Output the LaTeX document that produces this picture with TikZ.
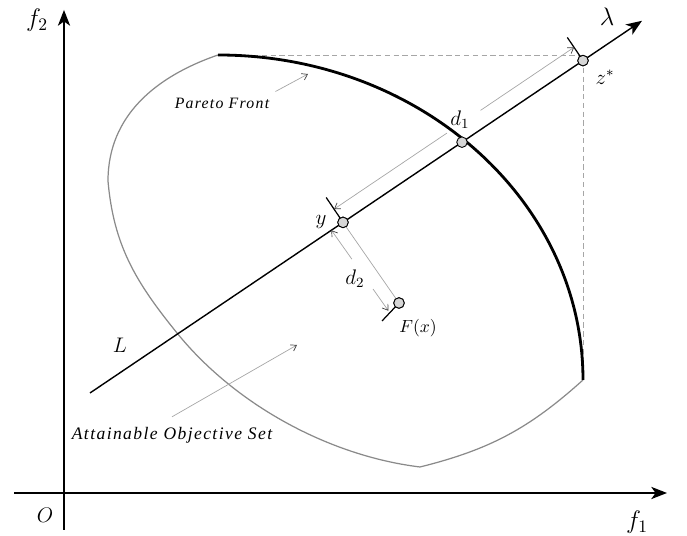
\documentclass[tikz,border=0pt]{standalone}
\usepackage{fontspec}
\usetikzlibrary{arrows.meta}
\newfontfamily\notefont[LetterSpace=8]{Liberation Serif}
\definecolor{setgray}{HTML}{8A8A8A}
\definecolor{guidegray}{HTML}{A6A6A6}
\definecolor{ptfill}{HTML}{D6D6D6}
\newcommand{\notelabel}[1]{{\notefont\itshape #1}}

\begin{document}
\begin{tikzpicture}[
  x=0.02cm, y=0.02cm,
  axis/.style={line width=0.7pt, -{Stealth[length=9pt,width=7pt,inset=2.5pt]}},
  front/.style={line width=1.6pt},
  setline/.style={draw=setgray, line width=0.7pt},
  guide/.style={draw=guidegray, line width=0.4pt, dash pattern=on 3pt off 2pt},
  dimline/.style={draw=guidegray, line width=0.4pt},
  dimarrow/.style={dimline, -{Straight Barb[length=3pt,width=4pt,color=black!75]}},
  tickline/.style={line width=0.7pt},
  pt/.style={circle, draw, fill=ptfill, inner sep=0pt, minimum size=6pt, line width=0.5pt},
  lbl/.style={font=\large}
]
\useasboundingbox (0,0) rectangle (687,536);

% axes
\coordinate (f1start) at (14,43);
\coordinate (f1end) at (667,43);
\coordinate (f2start) at (64,6);
\coordinate (f2end) at (64,526);
\draw[axis] (f1start) -- (f1end);
\draw[axis] (f2start) -- (f2end);
\node[font=\Large] (f1lbl) at (637,14) {$f_1$};
\node[font=\Large] (f2lbl) at (37,516) {$f_2$};
\node[lbl] (olbl) at (45,21) {$O$};

% ideal point guides
\coordinate (ftop) at (218,481);
\coordinate (fend) at (583,156);
\coordinate (zcorner) at (583,481);
\draw[guide] (ftop) -- (zcorner) -- (fend);

% attainable set boundary
\coordinate (setleft) at (108,355);
\coordinate (setmid) at (177,203);
\coordinate (setlow) at (420,69);
\draw[setline] (ftop) to[out=199, in=90] (setleft)
  to[out=-85, in=129] (setmid)
  to[out=-51, in=173, looseness=0.85] (setlow)
  to[out=14, in=222] (fend);

% pareto front
\draw[front] (ftop) arc[start angle=90, end angle=0, x radius=365, y radius=325];

% search direction
\coordinate (lstart) at (90,143);
\coordinate (ltip) at (642,515.2);
\draw[line width=0.8pt, -{Stealth[length=9pt,width=7pt,inset=2.5pt]}] (lstart) -- (ltip);
\node[font=\Large] (lamlbl) at (607,519) {$\lambda$};
\node[lbl] (llbl) at (120,191) {$L$};

% ticks
\coordinate (ytick) at (326.2,338.5);
\coordinate (ztick) at (567.3,498.6);
\coordinate (ftick) at (382,215);

% points
\node[pt] (ypt) at (343,313.6) {};
\node[pt] (dpt) at (462,393.8) {};
\node[pt] (zpt) at (583,475.4) {};
\node[pt] (fpt) at (399,233) {};
\draw[tickline] (ypt.center) -- (ytick);
\draw[tickline] (zpt.center) -- (ztick);
\draw[tickline] (fpt.center) -- (ftick);
\draw[dimline] (ypt) -- (fpt);
\node[pt] at (ypt) {};
\node[pt] at (zpt) {};
\node[pt] at (fpt) {};

% d1 dimension
\coordinate (d1a) at (334.1,326.9);
\coordinate (d1b) at (574.1,488.7);
\coordinate (d1gapa) at (446.9,402.9);
\coordinate (d1gapb) at (480.5,425.6);
\draw[dimarrow] (d1gapa) -- (d1a);
\draw[dimarrow] (d1gapb) -- (d1b);
\node[lbl] (d1lbl) at (460,416) {$d_1$};

% d2 dimension
\coordinate (d2a) at (331.4,305.8);
\coordinate (d2b) at (388.4,225.2);
\coordinate (d2gapa) at (351.9,276.8);
\coordinate (d2gapb) at (373.0,247.0);
\draw[dimarrow] (d2gapa) -- (d2a);
\draw[dimarrow] (d2gapb) -- (d2b);
\node[lbl] (d2lbl) at (355,257) {$d_2$};

\node[lbl] (ylbl) at (321,314) {$y$};
\node[lbl] (zlbl) at (605,459) {$z^{*}$};
\node[font=\normalsize] (flbl) at (418,208) {$F(x)$};

% annotations
\node[font=\small] (pflbl) at (222,433) {\notelabel{Pareto Front}};
\coordinate (pftip) at (308,462);
\draw[dimarrow] (pflbl.north east) -- (pftip);
\node[font=\normalsize] (aoslbl) at (172,101) {\notelabel{Attainable Objective Set}};
\coordinate (aostip) at (297,191);
\draw[dimarrow] (aoslbl.north) ++(0,4) -- (aostip);
\end{tikzpicture}
\end{document}
